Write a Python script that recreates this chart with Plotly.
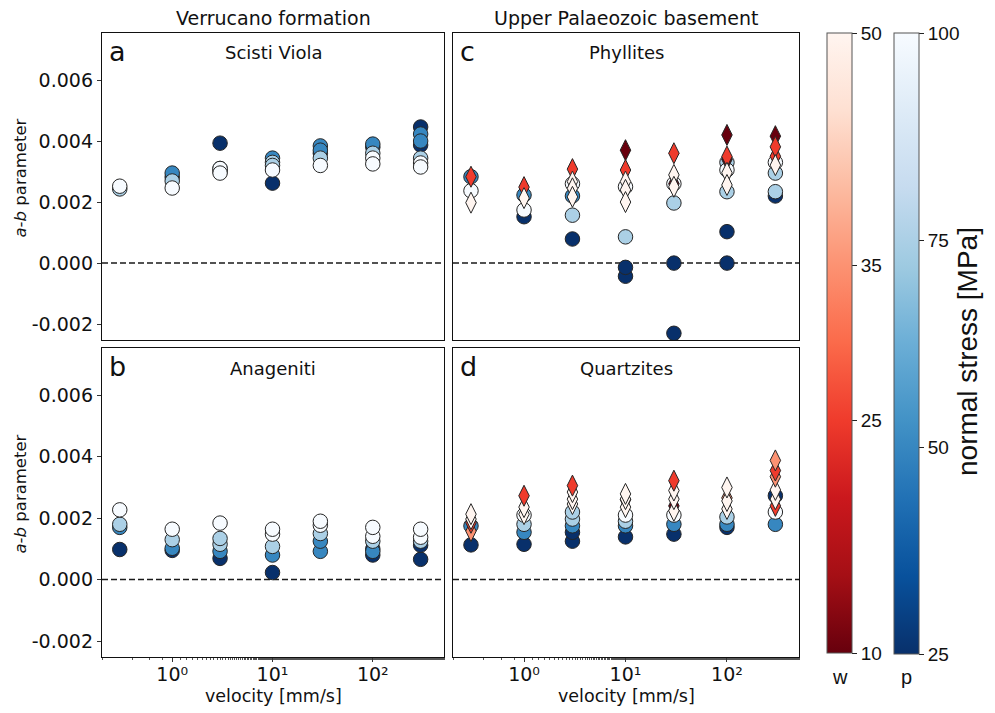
import plotly.graph_objects as go
import plotly.colors as pc

# page body has an 8px margin; figure is sized/positioned to compensate
OFF = 8
W, H = 995 - OFF, 713 - OFF

# ---------------- data ----------------
# Panel a: Scisti Viola (circles, colour = normal stress p [MPa])
a_vel = [0.3, 0.3,
         1, 1, 1, 1,
         3, 3, 3, 3, 3,
         10, 10, 10, 10, 10,
         30, 30, 30, 30, 30,
         100, 100, 100, 100, 100,
         300, 300, 300, 300, 300, 300, 300]
a_ab = [0.00243, 0.00252,
        0.00282, 0.00295, 0.00269, 0.00246,
        0.00393, 0.0031, 0.0030, 0.0031, 0.00295,
        0.00262, 0.00344, 0.0033, 0.0032, 0.00305,
        0.0036, 0.00384, 0.0037, 0.00344, 0.0032,
        0.0038, 0.0039, 0.0036, 0.00344, 0.00325,
        0.00446, 0.00387, 0.00423, 0.0040, 0.00344, 0.00328, 0.00315]
a_p = [75, 100,
       25, 50, 75, 100,
       25, 50, 75, 100, 100,
       25, 50, 75, 75, 100,
       25, 50, 50, 75, 100,
       25, 50, 75, 100, 100,
       25, 25, 50, 50, 75, 100, 100]

# Panel b: Anageniti (circles)
b_vel = [0.3, 0.3, 0.3, 0.3,
         1, 1, 1, 1,
         3, 3, 3, 3, 3,
         10, 10, 10, 10, 10,
         30, 30, 30, 30, 30,
         100, 100, 100, 100, 100, 100,
         300, 300, 300, 300, 300]
b_ab = [0.00098, 0.0017, 0.0018, 0.00227,
        0.00095, 0.00102, 0.0013, 0.00164,
        0.00069, 0.00092, 0.00115, 0.00134, 0.00184,
        0.00023, 0.0008, 0.00108, 0.00148, 0.00164,
        0.00092, 0.00125, 0.0015, 0.00177, 0.0019,
        0.0008, 0.001, 0.00092, 0.00125, 0.00141, 0.0017,
        0.00066, 0.00112, 0.00125, 0.00138, 0.00164]
b_p = [25, 50, 75, 100,
       25, 50, 75, 100,
       25, 50, 75, 75, 100,
       25, 50, 75, 100, 100,
       50, 50, 75, 100, 100,
       25, 25, 50, 75, 100, 100,
       25, 25, 75, 100, 100]

# Panel c: Phyllites, circles (p) and diamonds (w)
c_vel_p = [0.3, 0.3,
           1, 1, 1,
           3, 3, 3, 3,
           10, 10, 10, 10,
           30, 30, 30, 30,
           100, 100, 100, 100, 100,
           300, 300, 300, 300]
c_ab_p = [0.00283, 0.00237,
          0.00152, 0.00223, 0.00174,
          0.00079, 0.00157, 0.0022, 0.0026,
          -0.00043, -0.00014, 0.00086, 0.0025,
          -0.0023, 0.0, 0.00197, 0.0026,
          0.0, 0.00103, 0.00234, 0.0033, 0.00305,
          0.0022, 0.00234, 0.00295, 0.0033]
c_p = [50, 100,
       25, 50, 100,
       25, 75, 50, 100,
       25, 25, 75, 100,
       25, 25, 75, 100,
       25, 25, 75, 75, 100,
       25, 75, 75, 100]
c_vel_w = [0.3, 0.3,
           1, 1,
           3, 3, 3, 3,
           10, 10, 10, 10, 10,
           30, 30, 30, 30,
           100, 100, 100, 100, 100,
           300, 300, 300, 300]
c_ab_w = [0.00283, 0.00198,
          0.00249, 0.00213,
          0.00308, 0.00267, 0.00245, 0.00217,
          0.0037, 0.00305, 0.00267, 0.0024, 0.002,
          0.0036, 0.0026, 0.00289, 0.0025,
          0.0042, 0.0034, 0.00349, 0.00296, 0.00256,
          0.00416, 0.0035, 0.00381, 0.00321]
c_w = [25, 50,
       25, 50,
       25, 50, 50, 50,
       10, 25, 50, 50, 50,
       25, 10, 50, 50,
       10, 10, 25, 50, 50,
       10, 25, 25, 50]

# Panel d: Quartzites, circles (p) and diamonds (w)
d_vel_p = [0.3, 0.3,
           1, 1, 1, 1,
           3, 3, 3, 3, 3,
           10, 10, 10, 10,
           30, 30, 30,
           100, 100, 100,
           300, 300, 300]
d_ab_p = [0.00113, 0.00175,
          0.00115, 0.00154, 0.0018, 0.0021,
          0.00125, 0.00154, 0.00175, 0.00197, 0.0022,
          0.00139, 0.00175, 0.0019, 0.0021,
          0.00148, 0.0018, 0.0021,
          0.0017, 0.0018, 0.00204,
          0.0018, 0.0022, 0.00273]
d_p = [25, 50,
       25, 50, 75, 100,
       25, 25, 50, 75, 75,
       25, 50, 75, 100,
       25, 50, 100,
       25, 50, 75,
       50, 100, 25]
d_vel_w = [0.3, 0.3, 0.3, 0.3,
           1, 1, 1,
           3, 3, 3, 3,
           10, 10, 10, 10,
           30, 30, 30, 30, 30,
           100, 100, 100, 100,
           300, 300, 300, 300, 300, 300]
d_ab_w = [0.00158, 0.00185, 0.00197, 0.00213,
          0.00213, 0.00236, 0.00273,
          0.00246, 0.00262, 0.00285, 0.00306,
          0.0026, 0.00236, 0.00262, 0.00279,
          0.0024, 0.00224, 0.00262, 0.0029, 0.00322,
          0.00266, 0.0023, 0.00256, 0.003,
          0.0024, 0.00262, 0.00292, 0.00335, 0.00355, 0.00388]
d_w = [35, 25, 50, 50,
       50, 50, 25,
       50, 50, 50, 25,
       10, 50, 50, 50,
       10, 50, 50, 50, 25,
       35, 50, 50, 50,
       25, 50, 50, 35, 25, 35]

panel_titles = ["Scisti Viola", "Anageniti", "Phyllites", "Quartzites"]
panel_letters = ["a", "b", "c", "d"]
column_titles = ["Verrucano formation", "Upper Palaeozoic basement"]
y_ticks = [-0.002, 0.0, 0.002, 0.004, 0.006]
y_ticktext = ["-0.002", "0.000", "0.002", "0.004", "0.006"]
x_ticks = [1, 10, 100]
x_ticktext = ["10\u2070", "10\u00b9", "10\u00b2"]
w_ticks = [10, 25, 35, 50]
p_ticks = [25, 50, 75, 100]

# ---------------- layout geometry (window pixels) ----------------
def px_x(x):
    return (x - OFF) / W

def px_y(y):
    return 1 - (y - OFF) / H

col_x = [(102, 444), (453, 799)]
row_y = [(33, 340), (348, 657)]

blues = pc.sequential.Blues_r
reds = pc.sequential.Reds_r
edge = dict(color="#262626", width=1)
AXFONT = dict(family="DejaVu Sans", size=19, color="#111")
XTFONT = dict(family="DejaVu Sans", size=19, color="#111")
CBFONT = dict(family="Liberation Sans", size=19, color="#111")

fig = go.Figure()

panels = [
    (0, 0, (a_vel, a_ab, a_p), None),
    (1, 0, (b_vel, b_ab, b_p), None),
    (0, 1, (c_vel_p, c_ab_p, c_p), (c_vel_w, c_ab_w, c_w)),
    (1, 1, (d_vel_p, d_ab_p, d_p), (d_vel_w, d_ab_w, d_w)),
]

layout = {}
shapes = []
annotations = []
for i, (r, c, circ, diam) in enumerate(panels):
    n = i + 1
    xa = "x" if n == 1 else f"x{n}"
    ya = "y" if n == 1 else f"y{n}"
    fig.add_trace(go.Scatter(
        x=circ[0], y=circ[1], mode="markers", xaxis=xa, yaxis=ya,
        marker=dict(symbol="circle", size=14.5, color=circ[2], cmin=25, cmax=100,
                    colorscale=blues, line=edge,
                    showscale=(n == 1),
                    colorbar=dict(x=px_x(894), xanchor="left", xpad=0,
                                  y=px_y(343.5), yanchor="middle", ypad=0,
                                  len=621, lenmode="pixels", thickness=25,
                                  tickvals=p_ticks, ticks="outside", ticklen=5,
                                  tickcolor="#222", tickfont=CBFONT,
                                  outlinewidth=1, outlinecolor="#555")),
        showlegend=False, hoverinfo="x+y"))
    if diam is not None:
        fig.add_trace(go.Scatter(
            x=diam[0], y=diam[1], mode="markers", xaxis=xa, yaxis=ya,
            marker=dict(symbol="diamond-tall", size=15, color=diam[2], cmin=10, cmax=50,
                        colorscale=reds, line=edge,
                        showscale=(n == 3),
                        colorbar=dict(x=px_x(827), xanchor="left", xpad=0,
                                      y=px_y(343), yanchor="middle", ypad=0,
                                      len=620, lenmode="pixels", thickness=25,
                                      tickvals=w_ticks, ticks="outside", ticklen=5,
                                      tickcolor="#222", tickfont=CBFONT,
                                      outlinewidth=1, outlinecolor="#555")),
            showlegend=False, hoverinfo="x+y"))
    x0, x1 = col_x[c]
    y0, y1 = row_y[r]
    key_x = "xaxis" if n == 1 else f"xaxis{n}"
    key_y = "yaxis" if n == 1 else f"yaxis{n}"
    layout[key_x] = dict(
        domain=[px_x(x0), px_x(x1)], anchor=ya, type="log", range=[-0.70, 2.71],
        showline=True, mirror=True, linecolor="#111", linewidth=1.4,
        showgrid=False, zeroline=False,
        tickvals=x_ticks, ticktext=x_ticktext,
        showticklabels=(r == 1), ticks="outside" if r == 1 else "",
        ticklen=4, tickcolor="#333", tickfont=XTFONT, ticklabelstandoff=-4,
        minor=dict(ticks="outside" if r == 1 else "", ticklen=2, tickcolor="#555",
                   showgrid=False),
    )
    layout[key_y] = dict(
        domain=[px_y(y1), px_y(y0)], anchor=xa, range=[-0.00252, 0.00754],
        showline=True, mirror=True, linecolor="#111", linewidth=1.4,
        showgrid=False, zeroline=False,
        tickvals=y_ticks, ticktext=y_ticktext,
        showticklabels=(c == 0), ticks="outside" if c == 0 else "",
        ticklen=4, tickcolor="#333", tickfont=AXFONT,
    )
    shapes.append(dict(type="line", xref=f"{xa} domain", yref=ya, x0=0, x1=1, y0=0, y1=0,
                       line=dict(color="#1a1a1a", width=1.5, dash="6px,3px"), layer="below"))
    annotations.append(dict(text=panel_letters[i], x=px_x(x0 + 5), y=px_y(y0 + 1),
                            xref="paper", yref="paper", xanchor="left", yanchor="top",
                            showarrow=False, font=dict(family="DejaVu Sans", size=27, color="#111")))
    annotations.append(dict(text=panel_titles[i], x=px_x((x0 + x1) / 2), y=px_y(y0 + 20),
                            xref="paper", yref="paper", xanchor="center", yanchor="middle",
                            showarrow=False, font=dict(family="DejaVu Sans", size=18, color="#111")))

for c, t in enumerate(column_titles):
    x0, x1 = col_x[c]
    annotations.append(dict(text=t, x=px_x((x0 + x1) / 2), y=px_y(18), xref="paper", yref="paper",
                            xanchor="center", yanchor="middle", showarrow=False,
                            font=dict(family="DejaVu Sans", size=19, color="#111")))
for r in range(2):
    y0, y1 = row_y[r]
    annotations.append(dict(text="<i>a-b</i> parameter", x=px_x(20), y=px_y((y0 + y1) / 2 - 8),
                            xref="paper", yref="paper", xanchor="center", yanchor="middle",
                            textangle=-90, showarrow=False,
                            font=dict(family="DejaVu Sans", size=16.5, color="#111")))
for c in range(2):
    x0, x1 = col_x[c]
    annotations.append(dict(text="velocity [mm/s]", x=px_x((x0 + x1) / 2), y=px_y(696),
                            xref="paper", yref="paper", xanchor="center", yanchor="middle",
                            showarrow=False, font=dict(family="DejaVu Sans", size=17.5, color="#111")))
annotations.append(dict(text="normal stress [MPa]", x=px_x(967), y=px_y(352), xref="paper", yref="paper",
                        xanchor="center", yanchor="middle", textangle=-90, showarrow=False,
                        font=dict(family="Liberation Sans", size=28, color="#111")))
annotations.append(dict(text="w", x=px_x(840), y=px_y(677), xref="paper", yref="paper",
                        xanchor="center", yanchor="middle", showarrow=False,
                        font=dict(family="Liberation Sans", size=20, color="#111")))
annotations.append(dict(text="p", x=px_x(906), y=px_y(677), xref="paper", yref="paper",
                        xanchor="center", yanchor="middle", showarrow=False,
                        font=dict(family="Liberation Sans", size=20, color="#111")))

fig.update_layout(
    width=W, height=H, margin=dict(l=0, r=0, t=0, b=0),
    paper_bgcolor="white", plot_bgcolor="white",
    shapes=shapes, annotations=annotations, **layout,
)

fig.write_html("out.html")
